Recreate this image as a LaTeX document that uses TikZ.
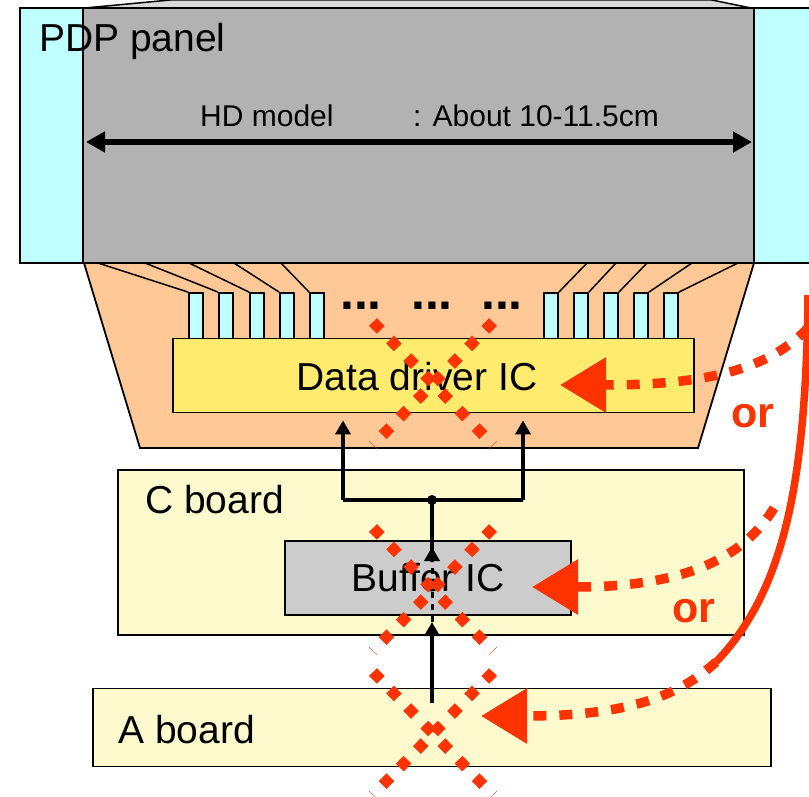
\documentclass[tikz,border=0pt]{standalone}
\usepackage{fontspec}
\setmainfont{Liberation Sans}
\usepackage{xcolor}
\usetikzlibrary{
  arrows.meta,
  positioning
}
\definecolor{pcyan}{RGB}{192,255,255}
\definecolor{pgray}{RGB}{178,178,178}
\definecolor{plgray}{RGB}{217,217,217}
\definecolor{ppeach}{RGB}{255,200,150}
\definecolor{pyellow}{RGB}{255,236,110}
\definecolor{pcream}{RGB}{255,249,206}
\definecolor{pbuf}{RGB}{204,204,204}
\definecolor{pred}{RGB}{255,51,0}

\begin{document}
\begin{tikzpicture}[x=1pt, y=-1pt,
  box/.style={draw=black, line width=1.8pt, inner sep=0pt, fill=#1},
  big/.style={font=\fontsize{39}{44}\selectfont, inner sep=0pt},
  dimtxt/.style={font=\fontsize{30}{34}\selectfont, inner sep=0pt},
  pin/.style={box=pcyan, minimum width=14pt, minimum height=46pt},
  lead/.style={line width=1.5pt},
  dots/.style={font=\fontsize{50}{50}\selectfont\bfseries, inner sep=0pt},
  arr/.style={-{Triangle[length=14pt,width=15pt]}, line width=4pt},
  xmark/.style={draw=pred, line width=11pt, dash pattern=on 11pt off 13.5pt},
  feed/.style={draw=pred, line width=9.5pt, dash pattern=on 13pt off 13pt,
               -{Triangle[length=46pt,width=53pt]}},
  ortxt/.style={font=\fontsize{43}{48}\selectfont\bfseries, text=pred, inner sep=0pt}
]
  \useasboundingbox (0,0) rectangle (809,797);

  \filldraw[fill=plgray, line width=1.5pt] (85,8) -- (170,0) -- (712,0) -- (751,8);
  \node[box=pcyan, minimum width=810pt, minimum height=255pt] (glass) at (425,135.5) {};
  \node[box=pgray, minimum width=671pt, minimum height=255pt] (panel) at (418.5,135.5) {};
  \node[big, anchor=base west] (ttl) at (39,52) {PDP panel};

  \coordinate (wl) at (86,142);
  \coordinate (wr) at (752,142);
  \draw[{Triangle[length=19pt,width=20pt]}-{Triangle[length=19pt,width=20pt]}, line width=5.5pt] (wl) -- (wr);
  \node[dimtxt, anchor=base west] (hd)  at (200,127) {HD model};
  \node[dimtxt, anchor=base west] (len) at (413,127) {: About 10-11.5cm};

  \filldraw[fill=ppeach, line width=1.8pt] (84,263) -- (754,263) -- (698,448) -- (140,448) -- cycle;

  \foreach \px/\tx [count=\i] in {196/98, 226/145, 257/189, 287/234, 317/281}{
    \node[pin] (pl\i) at (\px,316) {};
    \draw[lead] (\tx,263) -- (pl\i.north west);
  }
  \foreach \px/\tx [count=\i] in {551/587, 581/616, 611/647, 641/692, 671/738}{
    \node[pin] (pr\i) at (\px,316) {};
    \draw[lead] (\tx,263) -- (pr\i.north east);
  }
  \foreach \dx [count=\i] in {361,432,502}{
    \node[dots] (dt\i) at (\dx,306) {...};
  }

  \node[box=pyellow, minimum width=521pt, minimum height=74pt] (drvic) at (433.5,375.5) {};
  \node[big] (drvtxt) at (417,377) {Data driver IC};

  \node[box=pcream, minimum width=626pt, minimum height=165pt] (cboard) at (431,552.5) {};
  \node[big, anchor=base west] (ctxt) at (145,513) {C board};
  \node[box=pbuf, big, minimum width=286pt, minimum height=74pt] (bufic) at (428,578) {Buffer IC};
  \node[box=pcream, minimum width=678pt, minimum height=78pt] (aboard) at (432,727.5) {};
  \node[big, anchor=base west] (atxt) at (118,743) {A board};

  \coordinate (jn) at (432,500);
  \coordinate (jl) at (343,500);
  \coordinate (jr) at (523,500);
  \coordinate (bt) at (432,562);
  \coordinate (bb) at (432,622);
  \coordinate (as) at (432,703);
  \draw[line width=4pt] (jl) -- (jr);
  \draw[arr, shorten >=7pt] (jl) -- (jl |- drvic.south);
  \draw[arr, shorten >=7pt] (jr) -- (jr |- drvic.south);
  \fill (jn) circle (5pt);
  \draw[arr] (as) -- (bb);
  \draw[line width=3pt, dash pattern=on 6pt off 6pt] (bb) -- (bt);
  \draw[arr] (bt) -- ++(0,-15);
  \draw[line width=4pt] (bt) -- (jn);

  \foreach \yy in {322,528,672}{
    \draw[xmark] (373,\yy) -- (493,\yy+123);
    \draw[xmark] (493,\yy) -- (373,\yy+123);
  }

  \coordinate (c0) at (808,295);
  \coordinate (f1) at (808,328);
  \coordinate (f2) at (774,508);
  \coordinate (f3) at (716,662);
  \coordinate (t1) at (560,385);
  \coordinate (t2) at (532,587);
  \coordinate (t3) at (481,716);
  \draw[pred, line width=7.5pt] (c0) .. controls (806,480) and (785,590) .. (f3);
  \draw[feed] (f1) .. controls (770,368) and (710,385) .. (t1);
  \draw[feed] (f2) .. controls (745,555) and (690,587) .. (t2);
  \draw[feed] (f3) .. controls (680,695) and (630,716) .. (t3);

  \node[ortxt] (or1) at (753,416) {or};
  \node[ortxt] (or2) at (694,611) {or};
\end{tikzpicture}
\end{document}
